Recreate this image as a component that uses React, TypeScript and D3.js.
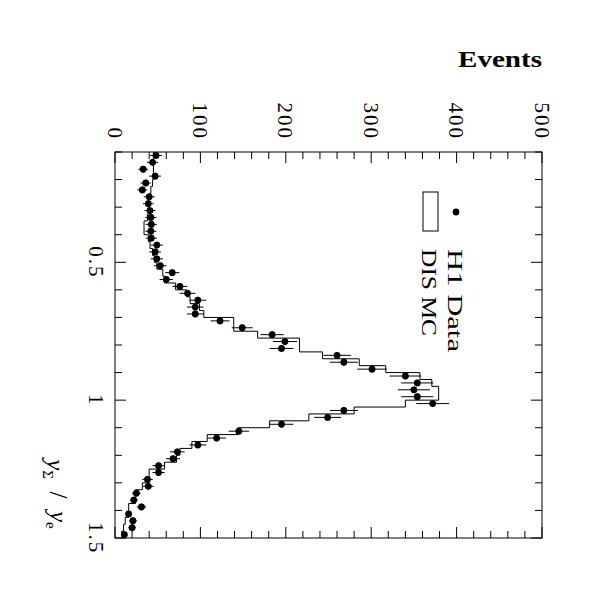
import React from 'react';
import * as d3 from 'd3';

// bin edges in y_sigma / y_e (57 edges -> 56 bins)
const binEdges = [
  0.1, 0.125, 0.15, 0.175, 0.2, 0.225, 0.25, 0.275, 0.3, 0.325,
  0.35, 0.375, 0.4, 0.425, 0.45, 0.475, 0.5, 0.525, 0.55, 0.575,
  0.6, 0.625, 0.65, 0.675, 0.7, 0.725, 0.75, 0.775, 0.8, 0.825,
  0.85, 0.875, 0.9, 0.925, 0.95, 0.975, 1.0, 1.025, 1.05, 1.075,
  1.1, 1.125, 1.15, 1.175, 1.2, 1.225, 1.25, 1.275, 1.3, 1.325,
  1.35, 1.375, 1.4, 1.425, 1.45, 1.475, 1.5,
];

// H1 data, events per bin
const dataEvents = [
  48, 44, 33, 47, 36, 32, 40, 39, 41, 42,
  42.5, 42, 42.5, 49, 47, 49, 53, 67, 60, 76,
  85, 97, 94, 94, 123, 149, 184, 199, 195, 260,
  268, 301, 340, 354, 350, 354, 372, 268, 249, 195,
  145, 119, 97, 73, 68, 51, 51, 38, 39, 25,
  22, 31, 16, 21, 20, 11,
];

// DIS MC, events per bin
const mcEvents = [
  45, 45, 45, 45, 44, 42, 40, 39, 39, 38,
  34, 34, 39, 41, 44, 46, 49, 56, 58, 71,
  84, 88, 99, 104, 139, 139, 167, 216, 216, 243,
  286, 317, 357, 371, 379, 379, 340, 280, 227, 181,
  144, 108, 90, 76, 72, 58, 40, 40, 32, 24,
  24, 16, 16, 12, 10, 8,
];

const eventTicks = [0, 100, 200, 300, 400, 500];
const ratioTicks = [0.5, 1, 1.5];
const ratioTickLabels = ['0.5', '1', '1.5'];

const W = 600;
const H = 606;
const left = 115;
const right = 542;
const top = 152;
const bottom = 538;

const font = '"Liberation Serif", "Times New Roman", serif';

const App: React.FC = () => {
  // chart is drawn rotated: events run left -> right, ratio runs top -> bottom
  const x = d3.scaleLinear().domain([0, 500]).range([left, right]);
  const y = d3.scaleLinear().domain([0.1, 1.5]).range([top, bottom]);

  const minorX = x.ticks(25);
  const minorY = y.ticks(14);

  // MC step outline
  const pts: [number, number][] = [];
  mcEvents.forEach((v, i) => {
    pts.push([x(v), y(binEdges[i])]);
    pts.push([x(v), y(binEdges[i + 1])]);
  });
  const mcPath = d3.line()(pts) as string;

  const isMajorX = (t: number) => Math.abs(t % 100) < 1e-6;
  const isMajorY = (t: number) => ratioTicks.some(r => Math.abs(r - t) < 1e-6);

  return (
    <div style={{ position: 'absolute', left: 0, top: 0 }}>
      <svg width={W} height={H} style={{ display: 'block', background: '#fff' }} fontFamily={font}>
        {/* histogram */}
        <path d={mcPath} fill="none" stroke="#000" strokeWidth={1} />

        {/* data with error bars */}
        {dataEvents.map((v, i) => {
          const cy = y((binEdges[i] + binEdges[i + 1]) / 2);
          const err = Math.sqrt(v);
          return (
            <g key={i}>
              <line x1={x(v - err)} x2={x(v + err)} y1={cy} y2={cy} stroke="#000" strokeWidth={1} />
              <line x1={x(v)} x2={x(v)} y1={y(binEdges[i])} y2={y(binEdges[i + 1])} stroke="#000" strokeWidth={1} />
              <circle cx={x(v)} cy={cy} r={3.4} fill="#000" />
            </g>
          );
        })}

        {/* frame */}
        <rect x={left} y={top} width={right - left} height={bottom - top} fill="none" stroke="#000" strokeWidth={1} />

        {/* event ticks on top and bottom edges */}
        {minorX.map(t => {
          const len = isMajorX(t) ? 11 : 7;
          return (
            <g key={'tx' + t}>
              <line x1={x(t)} x2={x(t)} y1={top} y2={top + len} stroke="#000" />
              <line x1={x(t)} x2={x(t)} y1={bottom} y2={bottom - len} stroke="#000" />
            </g>
          );
        })}

        {/* ratio ticks on left and right edges */}
        {minorY.map(t => {
          const len = isMajorY(t) ? 11 : 7;
          return (
            <g key={'ty' + t}>
              <line x1={left} x2={left + len} y1={y(t)} y2={y(t)} stroke="#000" />
              <line x1={right} x2={right - len} y1={y(t)} y2={y(t)} stroke="#000" />
            </g>
          );
        })}

        {/* event tick labels, rotated */}
        {eventTicks.map(t => (
          <text
            key={'lx' + t}
            transform={`translate(${x(t)},140) rotate(90)`}
            textAnchor="end"
            dy="0.35em"
            fontSize={21}
            letterSpacing={2}
          >
            {t}
          </text>
        ))}

        {/* ratio tick labels, rotated */}
        {ratioTicks.map((t, i) => (
          <text
            key={'ly' + t}
            transform={`translate(96,${y(t)}) rotate(90)`}
            textAnchor="middle"
            dy="0.35em"
            fontSize={21}
            letterSpacing={2}
          >
            {ratioTickLabels[i]}
          </text>
        ))}

        {/* axis titles */}
        <text
          x={458}
          y={67}
          fontSize={23}
          fontWeight="bold"
          textLength={84}
          lengthAdjust="spacingAndGlyphs"
        >
          Events
        </text>
        <text transform="translate(56,494) rotate(90)" textAnchor="middle" dy="0.35em" fontSize={25}>
          <tspan fontStyle="italic">y</tspan>
          <tspan fontSize={15} dy="0.3em">Σ</tspan>
          <tspan dy="-0.3em">{'\u2002/\u2002'}</tspan>
          <tspan fontStyle="italic">y</tspan>
          <tspan fontSize={15} dy="0.3em">e</tspan>
        </text>

        {/* legend */}
        <circle cx={456} cy={212} r={3.4} fill="#000" />
        <rect x={423} y={192} width={15} height={39} fill="#fff" stroke="#000" />
        <text
          transform="translate(456,249) rotate(90)"
          dy="0.35em"
          fontSize={22}
          textLength={103}
          lengthAdjust="spacingAndGlyphs"
        >
          H1 Data
        </text>
        <text
          transform="translate(430,249) rotate(90)"
          dy="0.35em"
          fontSize={22}
          textLength={87}
          lengthAdjust="spacingAndGlyphs"
        >
          DIS MC
        </text>
      </svg>
    </div>
  );
};

export default App;
